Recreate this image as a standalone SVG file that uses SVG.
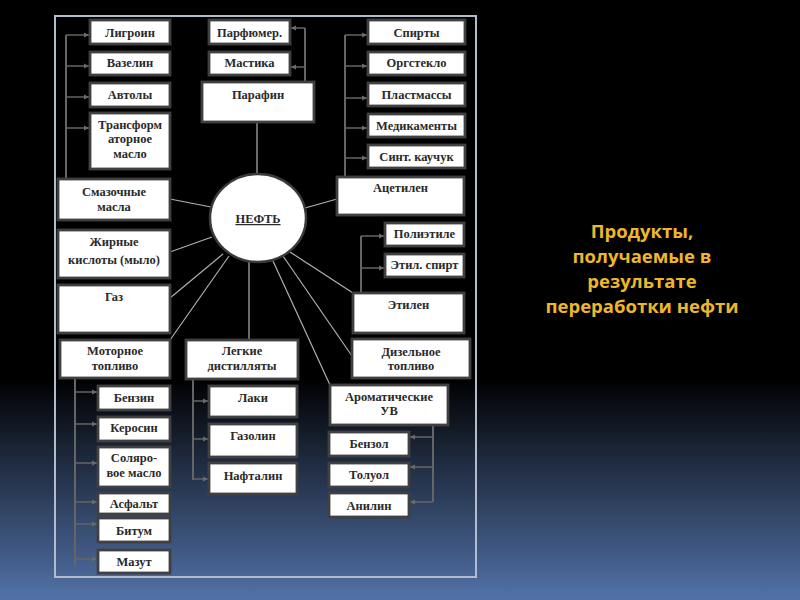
<svg xmlns="http://www.w3.org/2000/svg" width="800" height="600" viewBox="0 0 800 600">
<defs>
<linearGradient id="bg" x1="0" y1="0" x2="0" y2="1">
<stop offset="0" stop-color="#000"/>
<stop offset="0.63" stop-color="#000"/>
<stop offset="1" stop-color="#5272a8"/>
</linearGradient>
<marker id="ar" markerWidth="6" markerHeight="6" refX="5" refY="3" orient="auto" markerUnits="userSpaceOnUse">
<path d="M0,0.5 L5,3 L0,5.5 Z" fill="#6a6a6a"/>
</marker>
<style>
.b{fill:#fff;stroke:#404040;stroke-width:2.8}
.t{font-family:"Liberation Serif","Times New Roman",serif;font-weight:bold;font-size:12.5px;fill:#2a2a2a;text-anchor:middle}
.sp{stroke:#b0b0b0;stroke-width:1.2;fill:none}
.br{stroke:#656565;stroke-width:2;fill:none}
.ah{stroke:#656565;stroke-width:1.5;fill:none;marker-end:url(#ar)}
.ttl{font-family:"Open Sans","Liberation Sans",sans-serif;font-weight:bold;font-size:18.5px;fill:#eeb72a;text-anchor:middle}
</style>
</defs>
<rect width="800" height="600" fill="url(#bg)"/>
<rect x="55" y="16" width="421" height="561" fill="none" stroke="#b4bccb" stroke-width="2"/>

<g id="connectors">
<line class="sp" x1="257" y1="122" x2="257" y2="174"/>
<line class="sp" x1="170" y1="199" x2="211" y2="207"/>
<line class="sp" x1="170" y1="252" x2="212" y2="237"/>
<line class="sp" x1="170" y1="298" x2="223" y2="254"/>
<line class="sp" x1="170" y1="340" x2="229" y2="256"/>
<line class="sp" x1="249" y1="262" x2="249" y2="340"/>
<line class="sp" x1="273" y1="261" x2="330" y2="385"/>
<line class="sp" x1="283" y1="256" x2="352" y2="356"/>
<line class="sp" x1="290" y1="252" x2="353" y2="293"/>
<line class="sp" x1="305" y1="208" x2="337" y2="199"/>
<line class="br" x1="66" y1="35" x2="66" y2="185"/>
<line class="ah" x1="66" y1="35" x2="89" y2="35"/>
<line class="ah" x1="66" y1="66" x2="89" y2="66"/>
<line class="ah" x1="66" y1="97" x2="89" y2="97"/>
<line class="ah" x1="66" y1="128" x2="89" y2="128"/>
<line class="br" x1="305" y1="28" x2="305" y2="82"/>
<line class="ah" x1="305" y1="28" x2="291" y2="28"/>
<line class="ah" x1="305" y1="67" x2="291" y2="67"/>
<line class="br" x1="345" y1="35" x2="345" y2="177"/>
<line class="ah" x1="345" y1="35" x2="367" y2="35"/>
<line class="ah" x1="345" y1="66" x2="367" y2="66"/>
<line class="ah" x1="345" y1="98" x2="367" y2="98"/>
<line class="ah" x1="345" y1="128" x2="367" y2="128"/>
<line class="ah" x1="345" y1="158" x2="367" y2="158"/>
<line class="br" x1="361" y1="236" x2="361" y2="293"/>
<line class="ah" x1="361" y1="236" x2="384" y2="236"/>
<line class="ah" x1="361" y1="268" x2="384" y2="268"/>
<line class="br" x1="433" y1="425" x2="433" y2="502"/>
<line class="ah" x1="433" y1="437" x2="410" y2="437"/>
<line class="ah" x1="433" y1="467" x2="410" y2="467"/>
<line class="ah" x1="433" y1="502" x2="410" y2="502"/>
<line class="br" x1="75" y1="378" x2="75" y2="566"/>
<line class="ah" x1="75" y1="392" x2="97" y2="392"/>
<line class="ah" x1="75" y1="424" x2="97" y2="424"/>
<line class="ah" x1="75" y1="463" x2="97" y2="463"/>
<line class="ah" x1="75" y1="502" x2="97" y2="502"/>
<line class="ah" x1="75" y1="524" x2="97" y2="524"/>
<line class="ah" x1="75" y1="559" x2="97" y2="559" stroke-width="2.5"/>
<line class="br" x1="193" y1="379" x2="193" y2="480"/>
<line class="ah" x1="193" y1="401" x2="208" y2="401"/>
<line class="ah" x1="193" y1="439" x2="208" y2="439"/>
<line class="ah" x1="193" y1="479" x2="208" y2="479"/>
</g>

<g id="n-neft">
<ellipse cx="258" cy="218" rx="48" ry="44" fill="#fff" stroke="#3a3a3a" stroke-width="2.5"/>
<text class="t" x="258" y="223" font-size="13.5" text-decoration="underline">НЕФТЬ</text>
</g>

<g id="n-ligroin"><rect class="b" x="90" y="20" width="80" height="24"/><text class="t" x="130" y="37">Лигроин</text></g>
<g id="n-vazelin"><rect class="b" x="90" y="52" width="80" height="23"/><text class="t" x="130" y="67">Вазелин</text></g>
<g id="n-avtoly"><rect class="b" x="90" y="83" width="80" height="24"/><text class="t" x="130" y="99">Автолы</text></g>
<g id="n-transform"><rect class="b" x="90" y="113" width="80" height="56"/><text class="t" x="130" y="129">Трансформ</text><text class="t" x="130" y="143">аторное</text><text class="t" x="130" y="158">масло</text></g>

<g id="n-smaz"><rect class="b" x="58" y="179" width="112" height="41"/><text class="t" x="114" y="196">Смазочные</text><text class="t" x="114" y="211">масла</text></g>
<g id="n-zhir"><rect class="b" x="58" y="230" width="112" height="48"/><text class="t" x="114" y="246">Жирные</text><text class="t" x="114" y="264">кислоты (мыло)</text></g>
<g id="n-gaz"><rect class="b" x="58" y="285" width="112" height="48"/><text class="t" x="114" y="301">Газ</text></g>

<g id="n-parfum"><rect class="b" x="209" y="20" width="81" height="24"/><text class="t" x="249.5" y="37">Парфюмер.</text></g>
<g id="n-mastika"><rect class="b" x="209" y="52" width="81" height="23"/><text class="t" x="249.5" y="67">Мастика</text></g>
<g id="n-parafin"><rect class="b" x="202" y="82" width="112" height="40"/><text class="t" x="258" y="99">Парафин</text></g>

<g id="n-spirty"><rect class="b" x="368" y="20" width="97" height="24"/><text class="t" x="416.5" y="37">Спирты</text></g>
<g id="n-orgsteklo"><rect class="b" x="368" y="52" width="97" height="23"/><text class="t" x="416.5" y="67">Оргстекло</text></g>
<g id="n-plast"><rect class="b" x="368" y="83" width="97" height="23"/><text class="t" x="416.5" y="99">Пластмассы</text></g>
<g id="n-medik"><rect class="b" x="368" y="114" width="97" height="23"/><text class="t" x="416.5" y="130">Медикаменты</text></g>
<g id="n-sint"><rect class="b" x="368" y="145" width="97" height="23"/><text class="t" x="416.5" y="161">Синт. каучук</text></g>
<g id="n-acetilen"><rect class="b" x="337" y="177" width="127" height="38"/><text class="t" x="400.5" y="192">Ацетилен</text></g>

<g id="n-polietil"><rect class="b" x="385" y="223" width="79" height="23"/><text class="t" x="424.5" y="238">Полиэтиле</text></g>
<g id="n-etilspirt"><rect class="b" x="385" y="254" width="79" height="23"/><text class="t" x="424.5" y="269">Этил. спирт</text></g>
<g id="n-etilen"><rect class="b" x="353" y="293" width="111" height="40"/><text class="t" x="408.5" y="309">Этилен</text></g>

<g id="n-dizel"><rect class="b" x="352" y="339" width="118" height="39"/><text class="t" x="411" y="356">Дизельное</text><text class="t" x="411" y="370">топливо</text></g>
<g id="n-aromat"><rect class="b" x="330" y="385" width="118" height="40"/><text class="t" x="389" y="401">Ароматические</text><text class="t" x="389" y="415">УВ</text></g>
<g id="n-benzol"><rect class="b" x="329" y="432" width="80" height="24"/><text class="t" x="369" y="448">Бензол</text></g>
<g id="n-toluol"><rect class="b" x="329" y="463" width="80" height="24"/><text class="t" x="369" y="479">Толуол</text></g>
<g id="n-anilin"><rect class="b" x="329" y="493" width="80" height="24"/><text class="t" x="369" y="510">Анилин</text></g>

<g id="n-motor"><rect class="b" x="60" y="340" width="110" height="38"/><text class="t" x="115" y="355">Моторное</text><text class="t" x="115" y="370">топливо</text></g>
<g id="n-benzin"><rect class="b" x="98" y="386" width="72" height="24"/><text class="t" x="134" y="402">Бензин</text></g>
<g id="n-kerosin"><rect class="b" x="98" y="417" width="72" height="24"/><text class="t" x="134" y="432">Керосин</text></g>
<g id="n-solar"><rect class="b" x="98" y="447" width="72" height="40"/><text class="t" x="134" y="462">Соляро-</text><text class="t" x="134" y="477">вое масло</text></g>
<g id="n-asfalt"><rect class="b" x="98" y="493" width="72" height="21"/><text class="t" x="134" y="508">Асфальт</text></g>
<g id="n-bitum"><rect class="b" x="98" y="518" width="72" height="24"/><text class="t" x="134" y="535">Битум</text></g>
<g id="n-mazut"><rect class="b" x="98" y="550" width="72" height="23"/><text class="t" x="134" y="566">Мазут</text></g>

<g id="n-legkie"><rect class="b" x="186" y="340" width="112" height="39"/><text class="t" x="242" y="355">Легкие</text><text class="t" x="242" y="370">дистилляты</text></g>
<g id="n-laki"><rect class="b" x="209" y="386" width="88" height="31"/><text class="t" x="253" y="402">Лаки</text></g>
<g id="n-gazolin"><rect class="b" x="209" y="424" width="88" height="33"/><text class="t" x="253" y="440">Газолин</text></g>
<g id="n-naftalin"><rect class="b" x="209" y="463" width="88" height="31"/><text class="t" x="253" y="480">Нафталин</text></g>

<g id="title">
<text class="ttl" x="642" y="238">Продукты,</text>
<text class="ttl" x="642" y="263">получаемые в</text>
<text class="ttl" x="642" y="288">результате</text>
<text class="ttl" x="642" y="313">переработки нефти</text>
</g>
</svg>
